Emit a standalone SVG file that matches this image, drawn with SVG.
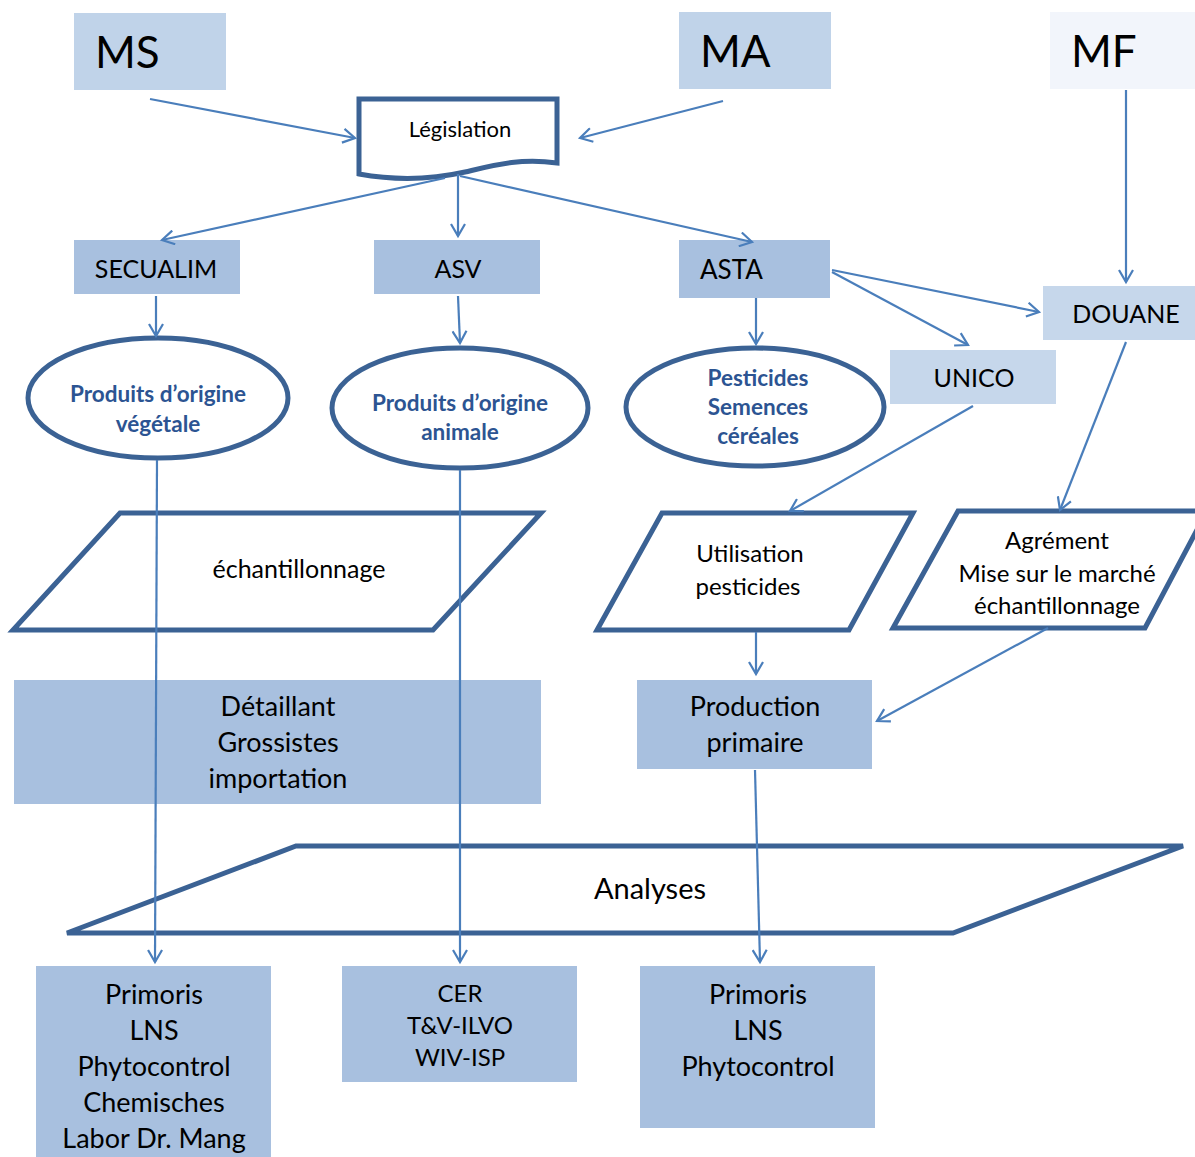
<svg xmlns="http://www.w3.org/2000/svg" width="1195" height="1157" viewBox="0 0 1195 1157">
<style>
text{font-family:Lato,"Open Sans","Liberation Sans",sans-serif;fill:#000;text-anchor:middle}
.big{font-size:44px;text-anchor:start}
.t27{font-size:27px}
.t25{font-size:25px}
.t24{font-size:24px}
.leg{font-size:22px}
.ell{fill:#fff;stroke:#3b6294;stroke-width:5}
.ellt{font-size:22.5px;font-weight:bold;fill:#2c5492}
.shape{fill:#fff;stroke:#3b6294;stroke-width:5;stroke-linejoin:miter}
.b1{fill:#c0d3e9}
.b2{fill:#a8c0df}
.b3{fill:#c6d7eb}
.b4{fill:#f2f5fb}
#connectors line{stroke:#4a7ebb;stroke-width:2.2;fill:none;marker-end:url(#arr)}
</style>
<defs>
<marker id="arr" markerWidth="16" markerHeight="16" refX="13" refY="8" orient="auto" markerUnits="userSpaceOnUse">
<path d="M1,1 L13,8 L1,15" fill="none" stroke="#4a7ebb" stroke-width="2.2"/>
</marker>
</defs>
<rect width="1195" height="1157" fill="#fff"/>

<g id="MS"><rect class="b1" x="74" y="13" width="152" height="77"/><text class="big" x="95" y="68">MS</text></g>
<g id="MA"><rect class="b1" x="679" y="12" width="152" height="77"/><text class="big" x="700" y="67">MA</text></g>
<g id="MF"><rect class="b4" x="1050" y="12" width="145" height="77"/><text class="big" x="1071" y="67">MF</text></g>

<g id="legislation"><path class="shape" d="M359,99 H557 V163 C520,158 495,165 465,172 C425,181 392,180 359,174 Z"/><text class="leg" x="460" y="137">Législation</text></g>

<g id="secualim"><rect class="b2" x="74" y="240" width="166" height="54"/><text class="t25" x="156" y="278">SECUALIM</text></g>
<g id="asv"><rect class="b2" x="374" y="240" width="166" height="54"/><text class="t25" x="458" y="278">ASV</text></g>
<g id="asta"><rect class="b2" x="679" y="240" width="151" height="58"/><text x="700" y="279" style="text-anchor:start;font-size:26px">ASTA</text></g>
<g id="douane"><rect class="b3" x="1043" y="286" width="152" height="54"/><text class="t25" x="1126" y="323">DOUANE</text></g>
<g id="unico"><rect class="b3" x="890" y="350" width="166" height="54"/><text class="t25" x="974" y="387">UNICO</text></g>

<g id="vegetale"><ellipse class="ell" cx="158" cy="398" rx="130" ry="60"/><text class="ellt" x="158" y="402">Produits d’origine</text><text class="ellt" x="158" y="432">végétale</text></g>
<g id="animale"><ellipse class="ell" cx="460" cy="408" rx="128" ry="60"/><text class="ellt" x="460" y="411">Produits d’origine</text><text class="ellt" x="460" y="440">animale</text></g>
<g id="pesticides"><ellipse class="ell" cx="755" cy="407" rx="129" ry="59"/><text class="ellt" x="758" y="386">Pesticides</text><text class="ellt" x="758" y="415">Semences</text><text class="ellt" x="758" y="444">céréales</text></g>

<g id="echantillonnage"><polygon class="shape" points="120,513 541,513 433,630 13,630"/><text class="t25" x="299" y="578">échantillonnage</text></g>
<g id="utilisation"><polygon class="shape" points="662,513 913,513 849,630 597,630"/><text class="t24" x="750" y="562">Utilisation</text><text class="t24" x="748" y="595">pesticides</text></g>
<g id="agrement"><polygon class="shape" points="958,511 1207,511 1145,628 893,628"/><text class="t24" x="1057" y="549">Agrément</text><text class="t24" x="1057" y="582">Mise sur le marché</text><text class="t24" x="1057" y="614">échantillonnage</text></g>

<g id="detaillant"><rect class="b2" x="14" y="680" width="527" height="124"/><text class="t27" x="278" y="716">Détaillant</text><text class="t27" x="278" y="752">Grossistes</text><text class="t27" x="278" y="788">importation</text></g>
<g id="production"><rect class="b2" x="637" y="680" width="235" height="89"/><text class="t27" x="755" y="716">Production</text><text class="t27" x="755" y="752">primaire</text></g>

<g id="analyses"><polygon class="shape" points="296,846 1183,846 953,933 67,933"/><text x="650" y="899" style="font-size:29px">Analyses</text></g>

<g id="labo1"><rect class="b2" x="36" y="966" width="235" height="191"/><text class="t27" x="154" y="1004">Primoris</text><text class="t27" x="154" y="1040">LNS</text><text class="t27" x="154" y="1076">Phytocontrol</text><text class="t27" x="154" y="1112">Chemisches</text><text class="t27" x="154" y="1148">Labor Dr. Mang</text></g>
<g id="labo2"><rect class="b2" x="342" y="966" width="235" height="116"/><text class="t24" x="460" y="1002">CER</text><text class="t24" x="460" y="1034">T&amp;V-ILVO</text><text class="t24" x="460" y="1066">WIV-ISP</text></g>
<g id="labo3"><rect class="b2" x="640" y="966" width="235" height="162"/><text class="t27" x="758" y="1004">Primoris</text><text class="t27" x="758" y="1040">LNS</text><text class="t27" x="758" y="1076">Phytocontrol</text></g>

<g id="connectors">
<line x1="150" y1="99" x2="355" y2="138"/>
<line x1="723" y1="101" x2="580" y2="138"/>
<line x1="445" y1="178" x2="162" y2="240"/>
<line x1="458" y1="174" x2="458" y2="236"/>
<line x1="460" y1="176" x2="752" y2="242"/>
<line x1="156" y1="296" x2="156" y2="336"/>
<line x1="458" y1="296" x2="460" y2="343"/>
<line x1="756" y1="298" x2="756" y2="344"/>
<line x1="832" y1="270" x2="1039" y2="312"/>
<line x1="832" y1="272" x2="968" y2="345"/>
<line x1="1126" y1="90" x2="1126" y2="282"/>
<line x1="157" y1="460" x2="155" y2="962"/>
<line x1="460" y1="470" x2="460" y2="962"/>
<line x1="973" y1="406" x2="790" y2="511"/>
<line x1="1126" y1="342" x2="1060" y2="510"/>
<line x1="756" y1="632" x2="756" y2="674"/>
<line x1="1048" y1="628" x2="877" y2="721"/>
<line x1="755" y1="770" x2="760" y2="962"/>
</g>
</svg>
